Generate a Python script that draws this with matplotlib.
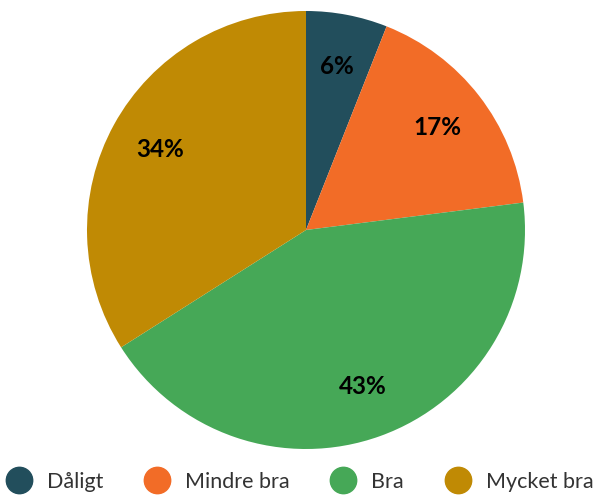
import matplotlib
matplotlib.use("Agg")
from matplotlib import pyplot as plt
from matplotlib.lines import Line2D

labels = ["Dåligt", "Mindre bra", "Bra", "Mycket bra"]
values = [6, 17, 43, 34]
colors = ["#224E5C", "#F26C27", "#46A857", "#C08A04"]

plt.rcParams["font.family"] = ["Lato", "DejaVu Sans"]

fig = plt.figure(figsize=(5.99, 4.97), dpi=100)
ax = fig.add_axes([87 / 599, 48 / 497, 438 / 599, 438 / 497])

wedges, texts, autotexts = ax.pie(
    values, colors=colors, startangle=90, counterclock=False,
    autopct=lambda p: "%d%%" % round(p), pctdistance=0.76,
    wedgeprops={"linewidth": 0},
    textprops={"fontsize": 17.5, "fontweight": "bold", "color": "black"},
)
ax.set_xlim(-1, 1)
ax.set_ylim(-1, 1)
ax.set_aspect("equal")

handles = [Line2D([], [], marker="o", linestyle="", markersize=19,
                  markerfacecolor=c, markeredgecolor=c) for c in colors]
fig.legend(handles, labels, loc="center", bbox_to_anchor=(0.5, 15 / 497),
           ncol=4, frameon=False, fontsize=15.5, handletextpad=0.7,
           columnspacing=1.9, labelcolor="#333333", handlelength=1.2)

fig.savefig("out.png", dpi=100)
